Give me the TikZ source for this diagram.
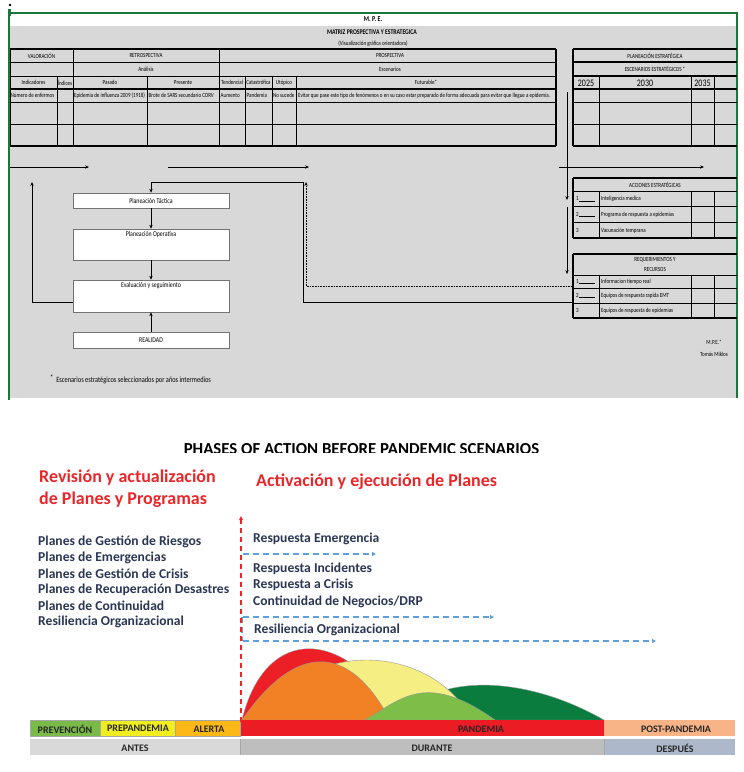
\documentclass[tikz,border=0pt]{standalone}
\usepackage{fontspec}
\setmainfont{Carlito}
\newfontfamily\narrowfont[FakeStretch=0.8]{Carlito}
\usetikzlibrary{arrows.meta}
\definecolor{bggray}{RGB}{216,216,216}
\definecolor{frgreen}{RGB}{28,118,58}
\definecolor{redtxt}{RGB}{234,38,41}
\definecolor{navy}{RGB}{42,54,84}
\definecolor{dblue}{RGB}{95,160,220}
\definecolor{wred}{RGB}{236,30,38}
\definecolor{worange}{RGB}{242,128,36}
\definecolor{wyellow}{RGB}{245,238,130}
\definecolor{wlgreen}{RGB}{124,190,72}
\definecolor{wdgreen}{RGB}{10,124,62}
\definecolor{bprev}{RGB}{122,186,72}
\definecolor{bprep}{RGB}{240,238,30}
\definecolor{balert}{RGB}{252,184,22}
\definecolor{bpand}{RGB}{236,28,36}
\definecolor{bpost}{RGB}{248,180,134}
\definecolor{gantes}{RGB}{217,217,217}
\definecolor{gdurante}{RGB}{190,190,190}
\definecolor{gdesp}{RGB}{173,185,202}
\begin{document}
\begin{tikzpicture}[x=1pt,y=-1pt,
  tx/.style={font=\narrowfont\fontsize{6.3}{7}\selectfont, inner sep=0pt},
  txl/.style={tx, anchor=west},
  txb/.style={font=\narrowfont\fontsize{7.3}{8}\selectfont, inner sep=0pt},
  yr/.style={font=\narrowfont\fontsize{10}{11}\selectfont, inner sep=0pt},
  flowbox/.style={draw=black!55, fill=white, line width=0.6pt, minimum width=156pt, inner sep=0pt},
  arr/.style={-{Stealth[length=4pt,width=3.4pt]}, line width=0.6pt},
  thk/.style={line width=1.3pt},
  med/.style={line width=0.8pt},
  thn/.style={line width=0.45pt},
  wave/.style={draw=black!40, line width=0.4pt},
  segline/.style={draw=black!35, line width=0.4pt},
  barlbl/.style={font=\bfseries\fontsize{10}{11}\selectfont, text=black!85, inner sep=0pt},
  listtx/.style={font=\bfseries\fontsize{13.6}{15}\selectfont, text=navy, anchor=west, inner sep=0pt},
  redh/.style={font=\bfseries\fontsize{18}{21}\selectfont, text=redtxt, anchor=west, inner sep=0pt},
  bdash/.style={dblue, line width=1.3pt, dash pattern=on 6pt off 4pt, -{Triangle[length=4pt,width=4pt]}},
  rdash/.style={redtxt, line width=1.3pt, dash pattern=on 5pt off 4pt, -{Triangle[length=4pt,width=3.5pt]}}
]
\useasboundingbox (0,0) rectangle (744,772);
% ===== top panel =====
\fill[bggray] (9,26) rectangle (737,398);
\draw[frgreen, line width=1.2pt] (9,400) -- (9,13) -- (737,13) -- (737,398);
\fill[black] (10,5) circle (1.4pt);
\draw[frgreen, line width=2.6pt] (9.5,9) -- (9.5,16);

\node[font=\narrowfont\bfseries\fontsize{7.5}{8}\selectfont, inner sep=0pt] (mpe) at (373,19) {M. P. E.};
\node[font=\narrowfont\bfseries\fontsize{7.2}{8}\selectfont, inner sep=0pt] (matriz) at (372,32) {MATRIZ PROSPECTIVA Y ESTRATEGICA};
\node[tx] (visual) at (373,43.5) {(Visualización gráfica orientadora)};

% left table lines
\draw[thk] (10,49) -- (556,49);
\draw[med] (10,62) -- (556,62);
\draw[med] (10,76) -- (556,76);
\draw[thk] (10,89) -- (556,89);
\draw[thn] (10,102) -- (556,102);
\draw[med] (10,124) -- (556,124);
\draw[thk] (10,146) -- (556,146);
\draw[med] (10,49) -- (10,146);
\draw[med] (73,49) -- (73,146);
\draw[med] (219,49) -- (219,146);
\draw[thk] (556,49) -- (556,146);
\foreach \xx in {57,147,245,272,296} \draw[med] (\xx,76) -- (\xx,146);

\node[tx] (valor) at (41.5,55.5) {VALORACIÓN};
\node[tx] (retro) at (146,55.5) {RETROSPECTIVA};
\node[tx] (prosp) at (390,55.5) {PROSPECTIVA};
\node[tx] (anal) at (146,69) {Análisis};
\node[tx] (escen) at (390,69) {Escenarios};
\node[tx] (indic) at (33.5,82.5) {Indicadores};
\node[tx] (indices) at (65,82.5) {Índices};
\node[tx] (pasado) at (110,82.5) {Pasado};
\node[tx] (presente) at (183,82.5) {Presente};
\node[tx] (tend) at (232,82.5) {Tendencial};
\node[tx] (catas) at (258.5,82.5) {Catastrófica};
\node[tx] (utop) at (284,82.5) {Utópico};
\node[tx] (futur) at (426,82.5) {Futurable*};
\node[txl] (d1) at (10.5,95.5) {Número de enfermos};
\node[txl] (d2) at (74,95.5) {Epidemia de influenza 2009 (1918)};
\node[txl] (d3) at (148.5,95.5) {Brote de SARS secundario CORV};
\node[txl] (d4) at (220.5,95.5) {Aumento};
\node[txl] (d5) at (246.5,95.5) {Pandemia};
\node[txl] (d6) at (272.8,95.5) {No sucede};
\node[txl] (d7) at (298,95.5) {Evitar que pase este tipo de fenómenos o en su caso estar preparado de forma adecuada para evitar que llegue a epidemia.};

% right table
\draw[thk] (573,49) -- (737,49);
\draw[thk] (573,62) -- (737,62);
\draw[thk] (573,76) -- (737,76);
\draw[thk] (573,89) -- (737,89);
\draw[thn] (573,102) -- (737,102);
\draw[med] (573,124) -- (737,124);
\draw[thk] (573,146) -- (737,146);
\draw[thk] (573,49) -- (573,146);
\foreach \xx in {599,691,714} \draw[med] (\xx,77) -- (\xx,146);
\node[tx] (plane) at (655,55.5) {PLANEACIÓN ESTRATÉGICA};
\node[tx] (escest) at (655,69) {ESCENARIOS ESTRATÉGICOS *};
\node[yr] (y25) at (586,83) {2025};
\node[yr] (y30) at (645,83) {2030};
\node[yr] (y35) at (702.5,83) {2035};

% acciones table
\draw[thk] (573,178) -- (737,178);
\draw[med] (573,191) -- (737,191);
\draw[med] (573,206) -- (737,206);
\draw[med] (573,222) -- (737,222);
\draw[thk] (573,238) -- (737,238);
\draw[thk] (573,178) -- (573,238);
\foreach \xx in {599,691,714} \draw[med] (\xx,191) -- (\xx,238);
\node[tx] (acc) at (655,185) {ACCIONES ESTRATÉGICAS};
\node[txl] (a1n) at (576,199) {1\rule[-0.6pt]{16pt}{0.4pt}};
\node[txl] (a2n) at (576,214.5) {2\rule[-0.6pt]{16pt}{0.4pt}};
\node[txl] (a3n) at (576,230.5) {3};
\node[txl] (a1) at (601,199) {Inteligencia medica};
\node[txl] (a2) at (601,214.5) {Programa de respuesta a epidemias};
\node[txl] (a3) at (601,230.5) {Vacunación temprana};

% requerimientos table
\draw[thk] (573,254) -- (737,254);
\draw[med] (573,275) -- (737,275);
\draw[med] (573,288) -- (737,288);
\draw[med] (573,303) -- (737,303);
\draw[thk] (573,318) -- (737,318);
\draw[thk] (573,254) -- (573,318);
\foreach \xx in {599,691,714} \draw[med] (\xx,275) -- (\xx,318);
\node[tx] (req1) at (655,259.5) {REQUERIMIENTOS Y};
\node[tx] (req2) at (655,269.5) {RECURSOS};
\node[txl] (r1n) at (576,281.5) {1\rule[-0.6pt]{16pt}{0.4pt}};
\node[txl] (r2n) at (576,295.5) {2\rule[-0.6pt]{16pt}{0.4pt}};
\node[txl] (r3n) at (576,310.5) {3};
\node[txl] (r1) at (601,281.5) {Informacion tiempo real};
\node[txl] (r2) at (601,295.5) {Equipos de respuesta rapida EMT};
\node[txl] (r3) at (601,310.5) {Equipos de respuesta de epidemias};

% horizontal arrows
\coordinate (h1a) at (10,167); \coordinate (h1b) at (89,167);
\coordinate (h2a) at (168,167); \coordinate (h2b) at (309,167);
\coordinate (h3a) at (559,167); \coordinate (h3b) at (704,167);
\draw[arr] (h1a) -- (h1b);
\draw[arr] (h2a) -- (h2b);
\draw[arr] (h3a) -- (h3b);
% vertical line to tables
\coordinate (v1) at (567,92); \coordinate (v2) at (567,200);
\coordinate (v3) at (567,207); \coordinate (v4) at (567,274);
\draw[arr] (v1) -- (v2);
\draw[arr] (v3) -- (v4);

% flow boxes
\node[flowbox, minimum height=15pt] (tac) at (151,200.5) {};
\node[flowbox, minimum height=31pt] (ope) at (151,244.5) {};
\node[flowbox, minimum height=32pt] (eva) at (151,296) {};
\node[flowbox, minimum height=16pt] (real) at (151,340) {};
\node[txb] (tact) at (151,200.5) {Planeación Táctica};
\node[txb] (opet) at (151,235) {Planeación Operativa};
\node[txb] (evat) at (151,286) {Evaluación y seguimiento};
\node[txb] (realt) at (151,340) {REALIDAD};
\draw[arr] (tac.south) -- (ope.north);
\draw[arr] (ope.south) -- (eva.north);
\draw[arr] (real.north) -- (eva.south);
\coordinate (lup) at (32,182);
\draw[arr] ([yshift=-6pt]eva.west) -| (lup);
\coordinate (rqa) at (573,302);
\coordinate (rqb) at (573,286);
\draw[arr] (rqa) -| (303,182) -| (tac.north);
\draw[arr, densely dotted] (rqb) -| (306,182);

\node[font=\narrowfont\fontsize{8}{9}\selectfont, inner sep=0pt, anchor=west] (foot) at (50,379) {\raisebox{2pt}{*}\ \ Escenarios estratégicos seleccionados por años intermedios};
\node[tx] (mpe2) at (714,342) {M.P.E.*};
\node[tx] (autor) at (714,354) {Tomás Miklos};

% ===== bottom panel =====
\begin{scope}
\clip (0,430) rectangle (744,452.6);
\node[font=\bfseries\fontsize{16.8}{18}\selectfont, inner sep=0pt, anchor=base] (title) at (361.5,454) {PHASES OF ACTION BEFORE PANDEMIC SCENARIOS};
\end{scope}

\node[redh] (rev1) at (39,478) {Revisión y actualización};
\node[redh] (rev2) at (39,500) {de Planes y Programas};
\node[redh] (act) at (256,482) {Activación y ejecución de Planes};

\node[listtx] (l1) at (38,541.5) {Planes de Gestión de Riesgos};
\node[listtx] (l2) at (38,557.5) {Planes de Emergencias};
\node[listtx] (l3) at (38,573.5) {Planes de Gestión de Crisis};
\node[listtx] (l4) at (38,589.5) {Planes de Recuperación Desastres};
\node[listtx] (l5) at (38,605.5) {Planes de Continuidad};
\node[listtx] (l6) at (38,622) {Resiliencia Organizacional};

\node[listtx] (p1) at (253,538.5) {Respuesta Emergencia};
\node[listtx] (p2) at (253,569) {Respuesta Incidentes};
\node[listtx] (p3) at (253,585) {Respuesta a Crisis};
\node[listtx] (p4) at (253,601.5) {Continuidad de Negocios/DRP};
\node[listtx] (p5) at (254,629.5) {Resiliencia Organizacional};

% blue dashed arrows
\coordinate (b1a) at (243,554); \coordinate (b1b) at (376,554);
\coordinate (b2a) at (243,617); \coordinate (b2b) at (494,617);
\coordinate (b3a) at (243,641); \coordinate (b3b) at (656,641);
\draw[bdash] (b1a) -- (b1b);
\draw[bdash] (b2a) -- (b2b);
\draw[bdash] (b3a) -- (b3b);
\draw[dblue, line width=1.3pt, dash pattern=on 6pt off 4pt] (242,617) -- (242,641);

% waves
\filldraw[wave, fill=wdgreen] (400,720) .. controls (430,675) and (520,672) .. (604,720) -- cycle;
\filldraw[wave, fill=wred] (242,720) .. controls (265,625) and (345,625) .. (400,720) -- cycle;
\filldraw[wave, fill=wyellow] (270,720) .. controls (300,640) and (430,640) .. (472,720) -- cycle;
\filldraw[wave, fill=worange] (242,720) .. controls (290,650) and (345,635) .. (390,720) -- cycle;
\filldraw[wave, fill=wlgreen] (365,720) .. controls (400,700) and (425,670) .. (495,720) -- cycle;

% bars
\fill[bprev] (30,720) rectangle (100,736);
\fill[bprep] (100,720) rectangle (175,736);
\fill[balert] (175,720) rectangle (240,736);
\fill[bpand] (240,720) rectangle (604,736);
\fill[bpost] (604,720) rectangle (735,736);
\foreach \xx in {100,175} \draw[segline] (\xx,720) -- (\xx,736);
\draw[segline] (30,720) rectangle (240,736);
\fill[gantes] (30,739) rectangle (240,755);
\fill[gdurante] (240,739) rectangle (604,755);
\fill[gdesp] (604,739) rectangle (735,755);
\draw[segline] (240,739) -- (240,755);
\draw[segline] (604,739) -- (604,755);
\node[barlbl] (bl1) at (65,729) {PREVENCIÓN};
\node[barlbl] (bl2) at (138,728.5) {PREPANDEMIA};
\node[barlbl] (bl3) at (209,729) {ALERTA};
\node[barlbl] (bl4) at (481,729) {PANDEMIA};
\node[barlbl] (bl5) at (676,729) {POST-PANDEMIA};
\node[barlbl] (bl6) at (135,748.5) {ANTES};
\node[barlbl] (bl7) at (432,748.5) {DURANTE};
\node[barlbl] (bl8) at (675,748.5) {DESPUÉS};

% red dashed vertical arrow
\coordinate (ra) at (241,722); \coordinate (rb) at (241,516);
\draw[rdash] (ra) -- (rb);
\end{tikzpicture}
\end{document}
